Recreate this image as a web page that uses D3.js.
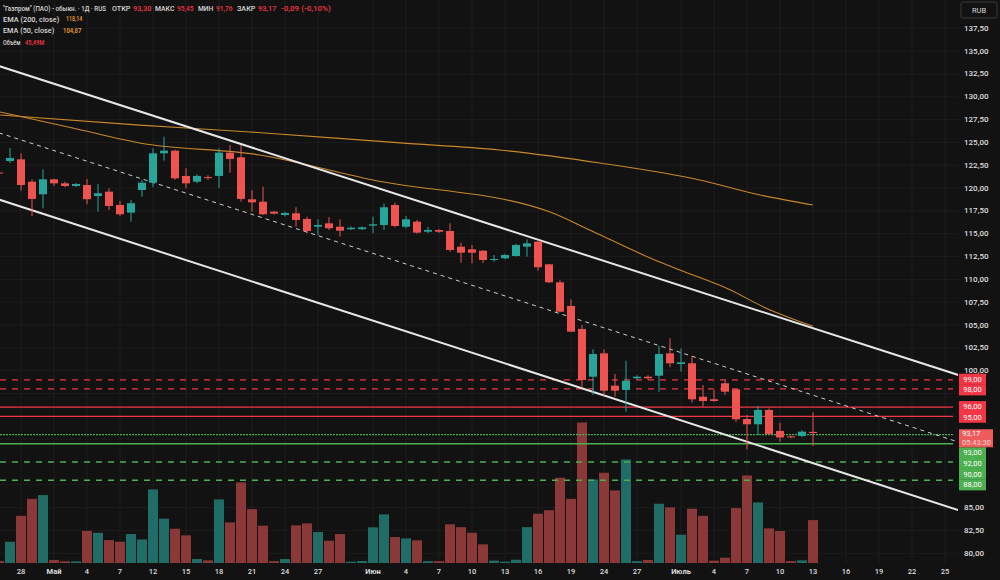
<!DOCTYPE html>
<html>
<head>
<meta charset="utf-8">
<script src="https://cdn.jsdelivr.net/npm/d3@7"></script>
<style>
  body { margin: 0; background: #121212; }
  svg { display: block; font-family: Roboto, "DejaVu Sans", sans-serif; }
</style>
</head>
<body>
<svg id="chart" width="1000" height="580"></svg>
<script>
// ---- data (bar index 0 = "28") ----
var firstIndex = -2;
var opens  = [121.7,122.97,123.15,120.70,119.32,120.96,120.52,120.23,120.34,119.13,119.61,118.15,117.31,119.79,120.59,123.81,124.10,121.33,120.70,121.2,121.33,123.88,123.37,118.77,118.51,117.42,117.05,117.24,116.62,115.77,116.14,115.77,115.49,115.5,115.88,115.96,118.15,115.77,116.32,115.22,115.41,115.30,113.58,113.29,113.14,112.12,112.31,112.56,113.58,114.13,111.65,109.68,107.09,104.57,99.34,101.9,98.36,97.89,99.17,99.34,99.45,101.90,100.73,100.81,97.15,96.87,98.62,97.96,94.71,94.13,95.70,93.40,92.8,92.85,93.30];
var highs  = [121.9,124.39,123.81,120.96,122.06,121.03,120.70,120.56,121.0,120.45,119.98,118.59,118.70,120.89,124.36,125.63,124.2,122.17,121.51,121.4,124.36,124.72,124.72,119.79,120.15,117.5,117.4,117.90,116.87,116.58,116.8,116.58,115.8,115.8,116.87,118.33,118.4,116.94,116.5,115.77,115.5,116.14,114.02,113.77,113.2,112.67,112.8,113.9,114.39,114.32,111.7,109.9,107.82,105.0,102.34,102.34,99.64,101.10,99.5,99.5,102.71,103.55,102.45,101.61,98.43,97.89,98.98,97.96,95.15,96.13,95.86,94.30,92.9,93.5,95.45];
var lows   = [121.5,122.75,119.72,116.94,117.79,120.23,120.09,120.12,118.23,117.42,117.60,116.94,116.32,119.06,120.09,123.0,120.9,119.98,120.52,120.9,119.98,121.69,118.51,117.42,117.05,117.1,116.9,115.77,115.05,114.86,115.4,114.68,115.4,115.4,115.05,115.41,115.7,115.60,115.0,115.05,115.1,113.03,111.83,111.76,111.8,111.94,112.2,112.5,112.49,110.95,109.6,106.4,104.27,98.25,97.34,97.26,97.15,95.51,99.0,99.0,97.70,100.37,99.89,96.5,96.06,96.6,97.34,94.4,91.39,92.96,92.96,92.22,92.6,92.7,91.76];
var closes = [121.6,123.30,120.34,118.81,120.96,120.52,120.23,120.45,118.78,119.43,118.04,117.13,118.34,120.59,123.81,124.10,121.07,120.52,121.33,121.1,123.88,123.19,118.81,118.44,117.13,117.20,117.27,116.51,115.30,115.96,115.60,115.33,115.66,115.7,116.03,117.90,115.85,116.58,115.12,115.41,115.22,113.22,112.92,112.92,112.12,112.23,112.67,113.77,113.95,111.33,109.68,106.46,104.27,98.98,101.83,97.81,97.81,98.90,99.34,99.17,101.83,100.81,100.92,96.87,96.68,96.68,97.70,94.68,94.13,95.70,93.07,92.69,92.75,93.32,93.17];
var volumes = [2,22.5,50,68,72,3.2,1.8,1.8,34,32,24.3,22.5,30.7,25,78,47,36.3,29.3,4.2,2.8,67.4,43,85.4,57.1,39.5,2,4.2,39.9,42,32.8,23.6,30.7,1.4,2.1,37.8,51.5,27.5,26.1,24,2,2,41,38,32,19.8,2.5,1.4,3.5,38,52.2,56,90.3,68,148.9,88.5,95.6,76.9,109.7,2,3.2,62.8,58.9,30,57.5,50,2.5,5.6,58.2,92.8,64.2,36.7,33.9,2,2.8,45.49];

var tickIndex  = [0,3,6,9,12,15,18,21,24,27,32,35,38,41,44,47,50,53,56,60,63,66,69,72,75,78,81,84];
var tickLabels = ["28","Май","4","7","12","15","18","21","24","27","Июн","4","7","10","13","16","19","24","27","Июль","4","7","10","13","16","19","22","25"];
var monthLabels = ["Май","Июн","Июль"];
var priceTicks = d3.range(80, 138.75, 2.5);

var resistance = [99, 98, 96, 95];
var support = [93, 92, 90, 88];
var lastPrice = 93.17;
var countdown = "05:43:30";

var ema200Idx = [-1.9, 10.8, 20.8, 34.5, 43.5, 52.6, 61.7, 67.2, 72];
var ema200    = [128.0, 126.9, 126.15, 124.95, 124.17, 122.75, 120.89, 119.24, 118.14];
var ema50Idx  = [-1.9, 4.7, 10.8, 21.7, 32, 48.1, 51.7, 57.2, 59.9, 64.5, 67.5, 72];
var ema50     = [128.34, 126.58, 124.94, 123.63, 120.89, 117.38, 115.41, 112.34, 111.03, 108.84, 106.98, 104.87];

var channelIdx = [-2, 86];
var upperLine  = [133.36, 99.22];
var midLine    = [126.05, 91.88];
var lowerLine  = [118.74, 84.42];

// ---- layout ----
var W = 1000, H = 580, plotW = 958, plotH = 563;
var upColor = "#26a69a", downColor = "#ef5350";
var upVol = "#1f6d66", downVol = "#8a3838";
var red = "#f23645", green = "#4caf50";
var dashedLevels = [99, 98, 90, 88];

var svg = d3.select("#chart");
svg.append("rect").attr("width", W).attr("height", H).attr("fill", "#121212");

var x = d3.scaleLinear().domain([0, 84]).range([21, 945]);
var y = d3.scaleLinear().domain([80, 137.5]).range([553.3, 28.3]);
var yVol = d3.scaleLinear().domain([0, 160]).range([plotH, plotH - 151]);

var bars = opens.map(function (o, k) {
  return { i: firstIndex + k, o: o, h: highs[k], l: lows[k], c: closes[k], v: volumes[k] };
});

svg.append("clipPath").attr("id", "plot")
  .append("rect").attr("width", plotW).attr("height", plotH);

// grid
var grid = svg.append("g").attr("clip-path", "url(#plot)");
grid.selectAll(".gx").data(tickIndex).enter().append("line")
  .attr("x1", function (d) { return x(d); }).attr("x2", function (d) { return x(d); })
  .attr("y1", 0).attr("y2", plotH)
  .attr("stroke", "#1c1c1c");
grid.selectAll(".gy").data(priceTicks).enter().append("line")
  .attr("x1", 0).attr("x2", plotW)
  .attr("y1", function (d) { return y(d); }).attr("y2", function (d) { return y(d); })
  .attr("stroke", "#1c1c1c");

var plot = svg.append("g").attr("clip-path", "url(#plot)");

// volume
plot.selectAll(".vol").data(bars).enter().append("rect")
  .attr("x", function (d) { return x(d.i) - 5; })
  .attr("width", 10)
  .attr("y", function (d) { return yVol(d.v); })
  .attr("height", function (d) { return plotH - yVol(d.v); })
  .attr("fill", function (d) { return d.c >= d.o ? upVol : downVol; });

// price levels
function levelLine(v, color) {
  var dashed = dashedLevels.indexOf(v) >= 0;
  plot.append("line")
    .attr("x1", 0).attr("x2", 953)
    .attr("y1", y(v)).attr("y2", y(v))
    .attr("stroke", color).attr("stroke-width", 1.3)
    .attr("stroke-dasharray", dashed ? "6,6" : (v === 93 ? "2,1" : null));
}
resistance.forEach(function (v) { levelLine(v, red); });
support.forEach(function (v) { levelLine(v, green); });

// EMA lines
var line = d3.line().curve(d3.curveMonotoneX)
  .x(function (d) { return x(d[0]); }).y(function (d) { return y(d[1]); });
plot.append("path").datum(d3.zip(ema200Idx, ema200))
  .attr("d", line).attr("fill", "none").attr("stroke", "#c9882a").attr("stroke-width", 1.1);
plot.append("path").datum(d3.zip(ema50Idx, ema50))
  .attr("d", line).attr("fill", "none").attr("stroke", "#c9882a").attr("stroke-width", 1.1);

// channel
var straight = d3.line().x(function (d) { return x(d[0]); }).y(function (d) { return y(d[1]); });
plot.append("path").datum(d3.zip(channelIdx, upperLine)).attr("d", straight)
  .attr("stroke", "#e6e6e6").attr("stroke-width", 2);
plot.append("path").datum(d3.zip(channelIdx, lowerLine)).attr("d", straight)
  .attr("stroke", "#e6e6e6").attr("stroke-width", 2);
plot.append("path").datum(d3.zip(channelIdx, midLine)).attr("d", straight)
  .attr("stroke", "#cfcfcf").attr("stroke-width", 1).attr("stroke-dasharray", "4,4");

// candles
var candle = plot.selectAll(".candle").data(bars).enter().append("g");
candle.append("line")
  .attr("x1", function (d) { return x(d.i); }).attr("x2", function (d) { return x(d.i); })
  .attr("y1", function (d) { return y(d.h); }).attr("y2", function (d) { return y(d.l); })
  .attr("stroke", function (d) { return d.c >= d.o ? upColor : downColor; });
candle.append("rect")
  .attr("x", function (d) { return x(d.i) - 4; })
  .attr("width", 8)
  .attr("y", function (d) { return y(Math.max(d.o, d.c)); })
  .attr("height", function (d) { return Math.max(1, Math.abs(y(d.o) - y(d.c))); })
  .attr("fill", function (d) { return d.c >= d.o ? upColor : downColor; });

var fmt = function (v) { return d3.format(".2f")(v).replace(".", ","); };

// price labels, kept in price order and pushed apart so they do not overlap
var boxH = 10.7;
var tags = resistance.map(function (v) { return { v: v, c: red, cy: y(v), h: boxH }; })
  .concat(support.map(function (v) { return { v: v, c: green, cy: y(v), h: boxH }; }));
var cur = { v: lastPrice, cy: y(lastPrice) + 5.2, h: 18, fixed: true };
tags.push(cur);
tags.sort(function (a, b) { return b.v - a.v; });
for (var it = 0; it < 300; it++) {
  for (var k = 0; k < tags.length - 1; k++) {
    var a = tags[k], b = tags[k + 1];
    var gap = (a.h + b.h) / 2 - (b.cy - a.cy);
    if (gap > 0) {
      if (a.fixed) b.cy += gap;
      else if (b.fixed) a.cy -= gap;
      else { a.cy -= gap / 2; b.cy += gap / 2; }
    }
  }
}

// price axis (ticks hidden under a label box are left out)
var freeTicks = priceTicks.filter(function (v) {
  return !tags.some(function (t) { return Math.abs(y(v) - t.cy) < t.h / 2 + 2; });
});
svg.selectAll(".ytick").data(freeTicks).enter().append("text")
  .attr("x", 964).attr("y", function (d) { return y(d); })
  .attr("dominant-baseline", "central")
  .attr("font-size", 8).attr("font-weight", 500).attr("fill", "#dedede")
  .text(fmt);

svg.append("rect").attr("x", 961).attr("y", 2).attr("width", 36).attr("height", 16)
  .attr("rx", 2).attr("fill", "#121212").attr("stroke", "#3a3a3a");
svg.append("text").attr("x", 979).attr("y", 10).attr("text-anchor", "middle")
  .attr("dominant-baseline", "central").attr("font-size", 7.5).attr("fill", "#d8d8d8").text("RUB");

tags.forEach(function (t) {
  if (t.fixed) return;
  svg.append("rect").attr("x", 959).attr("y", t.cy - t.h / 2).attr("width", 27).attr("height", t.h + 0.3)
    .attr("fill", t.c);
  svg.append("text").attr("x", 972.5).attr("y", t.cy).attr("text-anchor", "middle")
    .attr("dominant-baseline", "central").attr("font-size", 7.5).attr("fill", "#ffffff").text(fmt(t.v));
});
svg.append("rect").attr("x", 959).attr("y", cur.cy - cur.h / 2).attr("width", 34).attr("height", cur.h)
  .attr("fill", "#ef5b5b");
svg.append("text").attr("x", 962).attr("y", cur.cy - 4.3).attr("dominant-baseline", "central")
  .attr("font-size", 7.5).attr("fill", "#ffffff").text(fmt(lastPrice));
svg.append("text").attr("x", 962).attr("y", cur.cy + 4.7).attr("dominant-baseline", "central")
  .attr("font-size", 7.5).attr("fill", "#ffd6d6").text(countdown);

// time axis
svg.selectAll(".xtick").data(tickIndex).enter().append("text")
  .attr("x", function (d) { return x(d); }).attr("y", 571)
  .attr("text-anchor", "middle").attr("dominant-baseline", "central")
  .attr("font-size", 7.5)
  .attr("font-weight", function (d, k) { return monthLabels.indexOf(tickLabels[k]) >= 0 ? 700 : 500; })
  .attr("fill", "#dedede")
  .text(function (d, k) { return tickLabels[k]; });

// legend: each piece is drawn at its natural width, then squeezed to the reference width
var legend = svg.append("g").attr("font-size", 8).attr("font-weight", 500).attr("dominant-baseline", "central");
function put(tx, ty, s, color, len) {
  var t = legend.append("text").attr("x", 0).attr("y", 0).attr("fill", color).text(s);
  var natural = t.node().getComputedTextLength();
  var sx = Math.min(1, (len - 0.6) / natural);
  t.attr("transform", "translate(" + tx + "," + ty + ") scale(" + sx + ",1)");
}
var txt = "#d8d8d8";
put(3, 8.3, "\"Газпром\" (ПАО) - обыкн. · 1Д · RUS", txt, 104);
put(112, 8.3, "ОТКР", txt, 19); put(133, 8.3, fmt(opens[opens.length - 1]), red, 19);
put(155, 8.3, "МАКС", txt, 20); put(177, 8.3, fmt(highs[highs.length - 1]), red, 17);
put(198, 8.3, "МИН", txt, 16); put(216, 8.3, fmt(lows[lows.length - 1]), red, 17);
put(237, 8.3, "ЗАКР", txt, 19); put(258, 8.3, fmt(closes[closes.length - 1]), red, 19);
put(281, 8.3, "-0,09 (-0,10%)", red, 67);
put(3, 19, "EMA (200, close)", txt, 57); put(66, 19, fmt(ema200[ema200.length - 1]), "#f0a030", 17);
put(3, 30.3, "EMA (50, close)", txt, 52); put(63, 30.3, fmt(ema50[ema50.length - 1]), "#f0a030", 19);
put(3, 42.3, "Объём", txt, 18); put(25, 42.3, fmt(volumes[volumes.length - 1]) + "M", red, 20);
</script>
</body>
</html>
